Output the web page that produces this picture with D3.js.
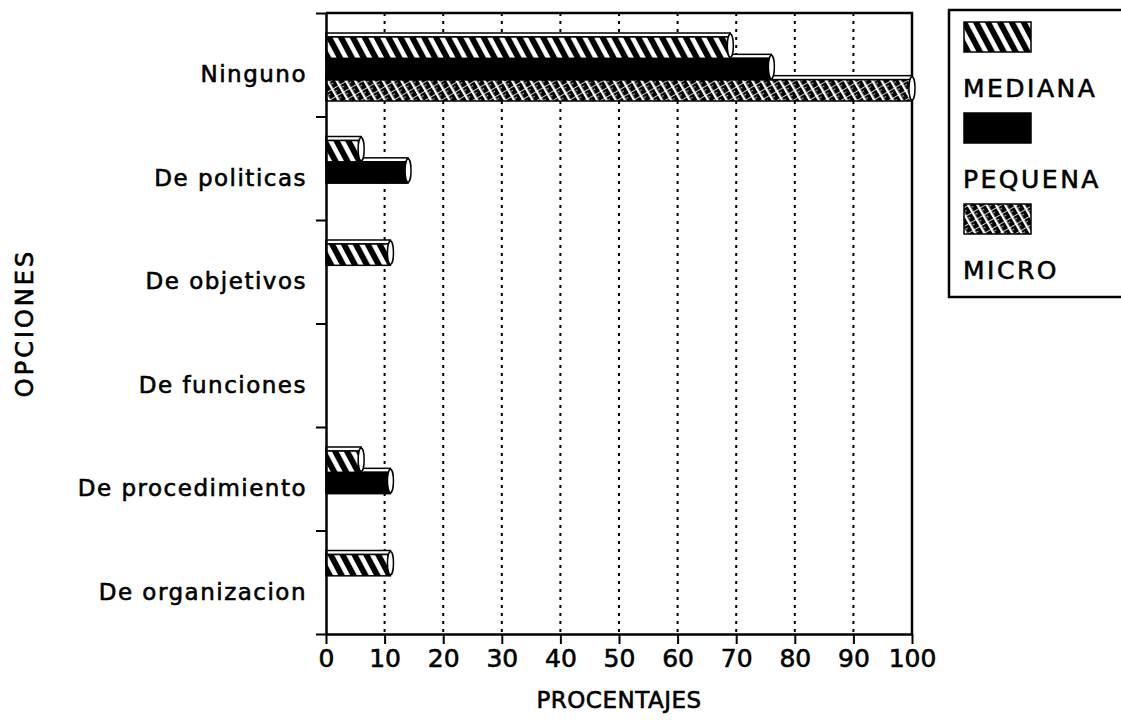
<!DOCTYPE html>
<html>
<head>
<meta charset="utf-8">
<script src="https://cdn.jsdelivr.net/npm/d3@7"></script>
<style>
  body { margin: 0; background: #fff; }
  svg { display: block; }
  text { font-family: "DejaVu Sans", "Liberation Sans", Arial, sans-serif; fill: #000; stroke: #000; stroke-width: 0.6px; }
</style>
</head>
<body>
<div id="chart"></div>
<script>
// categories (top to bottom) and series values
const categories = ["Ninguno", "De politicas", "De objetivos", "De funciones", "De procedimiento", "De organizacion"];
const seriesNames = ["MEDIANA", "PEQUENA", "MICRO"];
const mediana = [69, 6, 11, 0, 6, 11];
const pequena = [76, 14, 0, 0, 11, 0];
const micro   = [100, 0, 0, 0, 0, 0];
const xTicks  = [0, 10, 20, 30, 40, 50, 60, 70, 80, 90, 100];

const W = 1121, H = 720;
const plot = {left: 326, right: 912, top: 13, bottom: 634};

const svg = d3.select("#chart").append("svg")
    .attr("width", W)
    .attr("height", H);

// patterns
const defs = svg.append("defs");

let pMed = defs.append("pattern")
    .attr("id", "pat-mediana")
    .attr("patternUnits", "userSpaceOnUse")
    .attr("width", 10.5).attr("height", 10.5)
    .attr("patternTransform", "rotate(-28)");
pMed.append("rect").attr("width", 10.5).attr("height", 10.5).attr("fill", "#000");
pMed.append("rect").attr("x", 3).attr("width", 4.6).attr("height", 10.5).attr("fill", "#fff");

let pMic = defs.append("pattern")
    .attr("id", "pat-micro")
    .attr("patternUnits", "userSpaceOnUse")
    .attr("width", 8).attr("height", 8)
    .attr("patternTransform", "rotate(-30)");
pMic.append("rect").attr("width", 8).attr("height", 8).attr("fill", "#000");
pMic.append("rect").attr("x", 2).attr("width", 2.4).attr("height", 8).attr("fill", "#fff");
pMic.append("rect").attr("x", 0).attr("y", 3).attr("width", 8).attr("height", 1).attr("fill", "#fff").attr("opacity", 0.8);
pMic.append("rect").attr("x", 5.5).attr("y", 6).attr("width", 1.2).attr("height", 1.2).attr("fill", "#fff");

const fills = {MEDIANA: "url(#pat-mediana)", PEQUENA: "#000", MICRO: "url(#pat-micro)"};

// scales
const x = d3.scaleLinear().domain([0, 100]).range([plot.left, plot.right]);
const y = d3.scaleBand().domain(categories).range([plot.top, plot.bottom]).padding(0);
const yEdge = d3.scaleLinear().domain([0, categories.length]).range([plot.top, plot.bottom]);
const ySub = d3.scaleBand().domain(seriesNames).range([24, 88]).padding(0);

// grid lines
svg.append("g").attr("class", "grid")
    .selectAll("line")
    .data(xTicks.filter(d => d > 0 && d < 100))
    .enter().append("line")
    .attr("x1", d => x(d)).attr("x2", d => x(d))
    .attr("y1", plot.top).attr("y2", plot.bottom)
    .attr("stroke", "#000")
    .attr("stroke-width", 2)
    .attr("stroke-dasharray", "3,5");

// frame top + right
svg.append("path")
    .attr("d", `M${plot.left},${plot.top}H${plot.right}V${plot.bottom}`)
    .attr("fill", "none").attr("stroke", "#000").attr("stroke-width", 2.5);

// bars, drawn bottom series first so upper bars cover lower top faces
const rows = [];
categories.forEach((c, i) => {
    rows.push({cat: c, s: "MICRO", v: micro[i]});
    rows.push({cat: c, s: "PEQUENA", v: pequena[i]});
    rows.push({cat: c, s: "MEDIANA", v: mediana[i]});
});

const bars = svg.append("g").attr("class", "bars")
    .selectAll("g")
    .data(rows.filter(d => d.v > 0))
    .enter().append("g");

// top face
bars.append("rect")
    .attr("x", x(0))
    .attr("y", d => y(d.cat) + ySub(d.s) - 4)
    .attr("width", d => x(d.v) - x(0))
    .attr("height", 4)
    .attr("fill", "#fff")
    .attr("stroke", "#000")
    .attr("stroke-width", 1.5);

bars.append("rect")
    .attr("x", x(0))
    .attr("y", d => y(d.cat) + ySub(d.s))
    .attr("width", d => x(d.v) - x(0))
    .attr("height", ySub.bandwidth())
    .attr("fill", d => fills[d.s])
    .attr("stroke", "#000")
    .attr("stroke-width", 1.5);

// rounded end cap
bars.append("ellipse")
    .attr("cx", d => x(d.v))
    .attr("cy", d => y(d.cat) + ySub(d.s) + ySub.bandwidth() / 2 - 2)
    .attr("rx", 3)
    .attr("ry", ySub.bandwidth() / 2 + 1)
    .attr("fill", "#fff")
    .attr("stroke", "#000")
    .attr("stroke-width", 1.5);

// left axis (ticks at band edges)
const yAxis = svg.append("g")
    .attr("transform", `translate(${plot.left},0)`)
    .call(d3.axisLeft(yEdge).ticks(categories.length).tickSize(10).tickSizeOuter(0).tickFormat(""));
yAxis.selectAll("line").attr("stroke-width", 2);
yAxis.select(".domain").attr("stroke-width", 2.5);

// category labels
svg.append("g").selectAll("text")
    .data(categories)
    .enter().append("text")
    .attr("x", 307)
    .attr("y", d => y(d) + 69)
    .attr("text-anchor", "end")
    .style("font-size", "23px")
    .style("letter-spacing", "1.5px")
    .text(d => d);

// bottom axis
const xAxis = svg.append("g")
    .attr("transform", `translate(0,${plot.bottom})`)
    .call(d3.axisBottom(x).tickValues(xTicks).tickSize(10).tickPadding(5).tickSizeOuter(0));
xAxis.selectAll("line").attr("stroke-width", 2);
xAxis.select(".domain").attr("stroke-width", 2.5);
xAxis.selectAll("text")
    .attr("fill", "#000")
    .style("font-size", "25px")
    .style("font-family", "\"DejaVu Sans\", sans-serif");

// axis titles
svg.append("text")
    .attr("x", (plot.left + plot.right) / 2)
    .attr("y", 708)
    .attr("text-anchor", "middle")
    .style("font-size", "23px")
    .style("letter-spacing", "0.5px")
    .text("PROCENTAJES");

svg.append("text")
    .attr("transform", "translate(33,323) rotate(-90)")
    .attr("text-anchor", "middle")
    .style("font-size", "24px")
    .style("letter-spacing", "3px")
    .text("OPCIONES");

// legend
const legend = svg.append("g").attr("class", "legend");
legend.append("rect")
    .attr("x", 949).attr("y", 10)
    .attr("width", 190).attr("height", 287)
    .attr("fill", "#fff").attr("stroke", "#000").attr("stroke-width", 2.5);

const legItems = legend.selectAll("g.item")
    .data(seriesNames)
    .enter().append("g")
    .attr("class", "item")
    .attr("transform", (d, i) => `translate(964,${22 + i * 91})`);

legItems.append("rect")
    .attr("width", 67).attr("height", 30)
    .attr("fill", d => fills[d])
    .attr("stroke", "#000").attr("stroke-width", 1.5);

legItems.append("text")
    .attr("x", -1).attr("y", 75)
    .style("font-size", "25px")
    .style("letter-spacing", "2.5px")
    .text(d => d);
</script>
</body>
</html>
